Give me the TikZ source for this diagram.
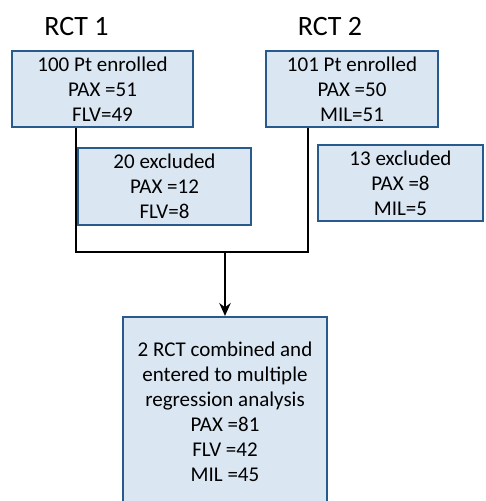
\documentclass[tikz,border=0pt]{standalone}
\usepackage{fontspec}
\setmainfont{Carlito}
\usetikzlibrary{arrows.meta}
\definecolor{boxfill}{HTML}{DAE6F2}
\definecolor{boxline}{HTML}{285A8C}

\begin{document}
\begin{tikzpicture}[x=1pt, y=-1pt,
  stepbox/.style={draw=boxline, line width=2.2pt, fill=boxfill,
    inner sep=0pt, align=center, font=\fontsize{21}{25}\selectfont},
  trialtitle/.style={font=\fontsize{28}{32}\selectfont},
  joinline/.style={line width=2.6pt},
  flowarrow/.style={-{Stealth[length=4.5mm, width=4mm]}, line width=2.6pt}
]
\useasboundingbox[fill=white] (0,0) rectangle (486,501);
\node[trialtitle] (titleA) at (76.5,27) {RCT 1};
\node[trialtitle] (titleB) at (330,27) {RCT 2};
\node[stepbox, minimum width=181pt, minimum height=76pt] (enrolA) at (102.5,89) {100 Pt enrolled\\PAX =51\\FLV=49};
\node[stepbox, minimum width=172pt, minimum height=76pt] (enrolB) at (352,89) {101 Pt enrolled\\PAX =50\\MIL=51};
\node[stepbox, minimum width=173pt, minimum height=77pt] (exclA) at (164.5,186.5) {20 excluded\\PAX =12\\FLV=8};
\node[stepbox, minimum width=165pt, minimum height=76pt] (exclB) at (400.5,183) {13 excluded\\PAX =8\\MIL=5};
\node[stepbox, minimum width=204pt, minimum height=190pt] (pooled) at (225,412) {2 RCT combined and\\entered to multiple\\regression analysis\\PAX =81\\FLV =42\\MIL =45};
\coordinate (merge) at (225,252);
\draw[joinline] ([xshift=-26.5pt]enrolA.south) |- (merge) -| ([xshift=-44pt]enrolB.south);
\draw[flowarrow] (merge) -- (pooled.north);
\end{tikzpicture}
\end{document}
